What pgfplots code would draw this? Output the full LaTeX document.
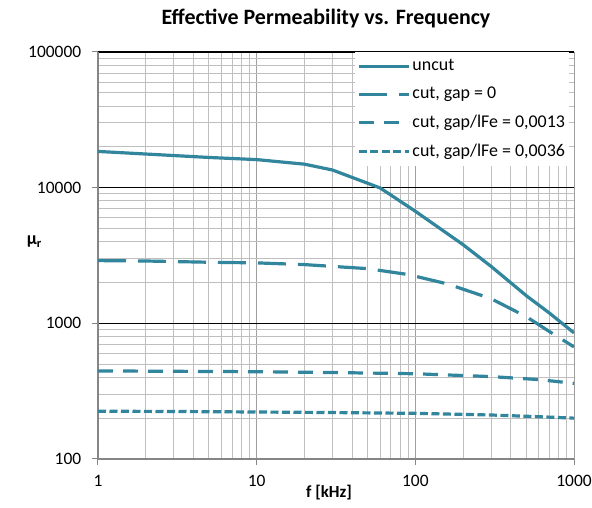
\documentclass[border=0pt]{standalone}
\usepackage{pgfplots}
\pgfplotsset{compat=1.18}
\usepackage{fontspec}
\setmainfont{Carlito}
\definecolor{curve}{RGB}{49,133,156}
\definecolor{axisgray}{RGB}{134,134,134}
\definecolor{gridgray}{RGB}{191,191,191}

\begin{document}
\fontsize{17}{20}\selectfont
\begin{tikzpicture}
\begin{axis}[
  name=ax,
  scale only axis, width=476bp, height=407bp,
  xmode=log, ymode=log,
  xmin=1, xmax=1000, ymin=100, ymax=100000,
  xtick={1,10,100,1000}, xticklabels={1,10,100,1000},
  ytick={100,1000,10000,100000}, yticklabels={100,1000,10000,100000},
  /pgf/number format/assume math mode=true,
  tick label style={font=\fontsize{17.5}{20}\selectfont},
  axis x line*=bottom, axis y line*=left,
  axis line style={draw=axisgray, line width=1.6bp, -},
  tick align=outside, major tick length=6bp, minor tick length=0pt,
  tick style={draw=axisgray, line width=1bp},
  xmajorgrids, xminorgrids, ymajorgrids, yminorgrids,
  major x grid style={draw=gray!75, line width=0.9bp},
  minor x grid style={draw=gridgray, line width=0.9bp},
  major y grid style={draw=black, line width=1.1bp},
  minor y grid style={draw=gridgray, line width=0.9bp},
  xticklabel style={yshift=-4bp},
  yticklabel style={xshift=-5bp},
  legend cell align=left,
  legend style={at={(rel axis cs:0.54,1)}, anchor=north west, draw=none,
    fill=white, inner xsep=2bp, inner ysep=5bp,
    font=\fontsize{18}{21}\selectfont, row sep=10bp},
  legend image code/.code={\draw[#1] (0bp,0bp) -- (50bp,0bp);},
]
\addplot[curve, line width=3.2bp] coordinates {
  (1,18500) (2,17700) (5,16700) (10,16100) (20,14900) (30,13500)
  (60,9950) (100,6700) (200,3800) (300,2630) (500,1600) (700,1190) (1000,850)
};
\addlegendentry{uncut}
\addplot[curve, line width=3.2bp, dash pattern=on 28bp off 12bp] coordinates {
  (1,2900) (2,2880) (5,2820) (10,2790) (20,2710) (50,2530) (90,2290)
  (160,1950) (300,1520) (500,1120) (700,870) (1000,670)
};
\addlegendentry{cut, gap = 0}
\addplot[curve, line width=3.2bp, dash pattern=on 15bp off 10bp] coordinates {
  (1,446) (3,443) (10,440) (30,434) (100,425) (300,405) (600,385) (1000,361)
};
\addlegendentry{cut, gap/lFe = 0,0013}
\addplot[curve, line width=3.2bp, dash pattern=on 8bp off 3.5bp] coordinates {
  (1,225) (3,224) (10,222) (30,220) (100,217) (300,211) (600,205) (1000,200)
};
\addlegendentry{cut, gap/lFe = 0,0036}
\end{axis}
\node[font=\fontsize{22}{26}\selectfont\bfseries] at ([xshift=228bp,yshift=33bp]ax.north west) {Effective Permeability vs. Frequency};
\node[font=\fontsize{17}{20}\selectfont\bfseries] at ([xshift=231bp,yshift=-34bp]ax.south west) {f [kHz]};
\node[font=\fontsize{18}{21}\selectfont\bfseries, anchor=west] at ([xshift=-77bp,yshift=217bp]ax.south west) {μ\textsubscript{r}};
\pgfresetboundingbox
\path (-98bp,-49bp) rectangle (494bp,459bp);
\end{tikzpicture}
\end{document}
